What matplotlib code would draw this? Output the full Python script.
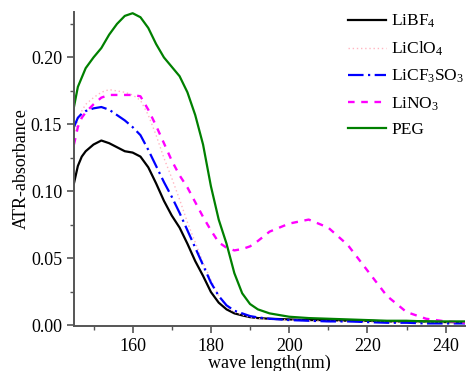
import matplotlib
matplotlib.use("Agg")
import matplotlib.pyplot as plt
from matplotlib.ticker import MultipleLocator

plt.rcParams["font.family"] = ["Liberation Serif", "DejaVu Serif"]
plt.rcParams["mathtext.fontset"] = "custom"
plt.rcParams["mathtext.rm"] = "Liberation Serif"
plt.rcParams["mathtext.it"] = "Liberation Serif:italic"

# wavelength grid (nm)
wl = [145, 146, 147, 148, 150, 152, 154, 156, 158, 160, 162, 164, 166, 168,
      170, 172, 174, 176, 178, 180, 182, 184, 186, 188, 190, 192, 195, 200,
      205, 210, 215, 220, 225, 230, 235, 240, 245]

libf4 = [0.106, 0.119, 0.126, 0.130, 0.135, 0.138, 0.136, 0.133, 0.130, 0.129,
         0.126, 0.118, 0.106, 0.093, 0.082, 0.073, 0.061, 0.048, 0.037, 0.025,
         0.017, 0.012, 0.009, 0.0075, 0.0062, 0.0055, 0.005, 0.0045, 0.004,
         0.004, 0.0035, 0.0035, 0.003, 0.003, 0.003, 0.0025, 0.0025]

liclo4 = [0.142, 0.153, 0.160, 0.165, 0.170, 0.174, 0.176, 0.175, 0.174, 0.172,
          0.168, 0.157, 0.142, 0.125, 0.110, 0.094, 0.077, 0.062, 0.047, 0.034,
          0.022, 0.014, 0.010, 0.008, 0.006, 0.005, 0.0045, 0.004, 0.0035,
          0.003, 0.003, 0.0025, 0.0025, 0.002, 0.002, 0.002, 0.002]

licf3so3 = [0.148, 0.155, 0.158, 0.160, 0.162, 0.163, 0.161, 0.157, 0.153, 0.148,
            0.142, 0.131, 0.119, 0.107, 0.096, 0.084, 0.071, 0.058, 0.045, 0.032,
            0.022, 0.015, 0.011, 0.009, 0.007, 0.006, 0.005, 0.004, 0.0035,
            0.003, 0.003, 0.0025, 0.002, 0.002, 0.0015, 0.0015, 0.0015]

lino3 = [0.135, 0.148, 0.155, 0.159, 0.165, 0.170, 0.172, 0.172, 0.172, 0.172,
         0.171, 0.161, 0.149, 0.136, 0.123, 0.112, 0.103, 0.092, 0.081, 0.071,
         0.062, 0.058, 0.056, 0.057, 0.059, 0.063, 0.070, 0.076, 0.079, 0.073,
         0.060, 0.041, 0.022, 0.010, 0.005, 0.003, 0.002]

peg = [0.163, 0.178, 0.185, 0.192, 0.200, 0.207, 0.217, 0.225, 0.231, 0.233,
       0.230, 0.222, 0.210, 0.200, 0.193, 0.186, 0.174, 0.157, 0.135, 0.104,
       0.079, 0.061, 0.039, 0.024, 0.016, 0.012, 0.009, 0.0065, 0.0055, 0.005,
       0.0045, 0.004, 0.0035, 0.0035, 0.003, 0.003, 0.003]

fig = plt.figure(figsize=(4.68, 3.71), dpi=100)
ax = fig.add_axes([0.158, 0.121, 0.836, 0.847])

ax.plot(wl, libf4, color="black", lw=1.6, label="LiBF$_4$")
ax.plot(wl, liclo4, color="#ffb6c1", lw=1.0, ls=(0, (1, 2)), label="LiClO$_4$")
ax.plot(wl, licf3so3, color="blue", lw=1.6, ls=(0, (7, 2, 1, 2)),
        label="LiCF$_3$SO$_3$")
ax.plot(wl, lino3, color="magenta", lw=1.7, ls=(0, (2.8, 2.8)), label="LiNO$_3$")
ax.plot(wl, peg, color="green", lw=1.6, label="PEG")

ax.set_xlim(145, 245)
ax.set_ylim(-0.0005, 0.234)
ax.xaxis.set_major_locator(MultipleLocator(20))
ax.xaxis.set_minor_locator(MultipleLocator(10))
ax.yaxis.set_major_locator(MultipleLocator(0.05))
ax.yaxis.set_minor_locator(MultipleLocator(0.025))
ax.yaxis.set_major_formatter(plt.FormatStrFormatter("%.2f"))

for s in ["top", "right"]:
    ax.spines[s].set_visible(False)
for s in ["left", "bottom"]:
    ax.spines[s].set_color("#555555")
    ax.spines[s].set_linewidth(1.4)

ax.tick_params(which="major", direction="out", length=5, width=1.2,
               color="#555555", labelsize=13)
ax.tick_params(which="minor", direction="out", length=3, width=1.0,
               color="#555555")

ax.set_xlabel("wave length(nm)", fontsize=13, labelpad=0)
ax.set_ylabel("ATR-absorbance", fontsize=13, labelpad=1)

ax.legend(loc="upper left", bbox_to_anchor=(0.70, 0.997), frameon=False,
          fontsize=12.5, handlelength=2.2, handletextpad=0.3,
          labelspacing=0.56, borderpad=0, borderaxespad=0)

fig.savefig("out.png", dpi=100)
